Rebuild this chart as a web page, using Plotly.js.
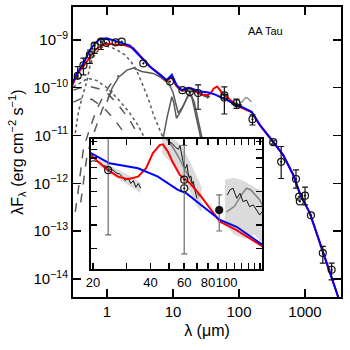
<!DOCTYPE html>
<html>
<head>
<meta charset="utf-8">
<script src="https://cdn.plot.ly/plotly-3.0.1.min.js"></script>
<style>html,body{margin:0;padding:0;background:#fff}</style>
</head>
<body>
<div id="myDiv" style="width:350px;height:350px"></div>
<script>
// photometry (wavelength in micron, log10 of lambda F_lambda)
var photLam = [0.36, 0.44, 0.55, 0.65, 0.81, 0.97, 1.35, 1.67, 3.55, 9.0, 13.9, 18, 24, 60, 60, 91.5, 160, 330, 435, 730, 815, 835, 1000, 1230, 1860, 2530];
var photLog = [-9.75, -9.53, -9.31, -9.12, -9.035, -9.06, -9.05, -9.035, -9.49, -9.87, -10.05, -10.09, -10.11, -10.205, -10.16, -10.32, -10.66, -11.14, -11.55, -11.91, -12.28, -12.38, -12.26, -12.67, -13.46, -13.81];
var photHi = [-9.56, -9.38, -9.21, -9.06, -8.99, null, null, null, null, null, null, null, -9.94, -9.98, null, -10.24, -10.57, -11.11, -11.23, -11.72, null, null, -12.08, null, -13.32, -13.67];
var photLo = [-9.8, -9.73, -9.49, -9.28, -9.2, null, null, null, null, null, null, null, -10.45, -10.55, null, -10.43, -10.78, -11.18, -11.9, -12.1, null, null, -12.45, null, -13.67, -14.02];

// small photometry dots near 100 micron
var dotLam = [81, 92, 103];
var dotLog = [-10.32, -10.36, -10.37];

// models
var blueLam = [0.30, 0.35, 0.44, 0.55, 0.66, 0.78, 0.99, 1.25, 1.57, 2.23, 3.16, 4.5, 6.3, 8.0, 9.6, 11.3, 13.5, 17, 19.5, 24.4, 34.4, 43.7, 55.6, 61.7, 92.3, 112.7, 155, 208, 330, 467, 661, 834, 1187, 1884, 3160, 3600];
var blueLog = [-9.9, -9.7, -9.49, -9.21, -9.07, -8.98, -8.965, -9.0, -9.05, -9.12, -9.35, -9.56, -9.72, -9.84, -9.73, -9.94, -10.05, -10.0, -10.02, -10.074, -10.1, -10.144, -10.214, -10.232, -10.372, -10.408, -10.504, -10.78, -11.13, -11.41, -11.82, -12.21, -12.63, -13.46, -14.37, -14.6];
var redLam = [0.30, 0.35, 0.44, 0.55, 0.66, 0.88, 1.05, 1.4, 1.77, 2.5, 3.2, 4.5, 6.3, 8.0, 9.6, 11.3, 13.5, 17, 18.8, 21.2, 23.9, 27, 30.4, 34.4, 37.9, 41.1, 44.6, 46.4, 49.3, 52.4, 56.9, 64.3, 72.5, 81.8, 92.3, 112.7, 155.6, 208, 330, 467, 661, 834, 1187, 1884, 3160, 3600];
var redLog = [-9.95, -9.72, -9.55, -9.35, -9.21, -9.1, -9.08, -9.1, -9.1, -9.17, -9.33, -9.56, -9.73, -9.86, -9.77, -9.96, -10.06, -10.0, -10.013, -10.065, -10.109, -10.144, -10.158, -10.144, -10.1, -10.021, -9.978, -9.974, -10.013, -10.07, -10.135, -10.179, -10.24, -10.31, -10.381, -10.425, -10.513, -10.79, -11.14, -11.41, -11.82, -12.21, -12.63, -13.46, -14.37, -14.6];

// model components
var photoLam = [0.33, 0.35, 0.37, 0.43, 0.5, 0.55, 0.6, 0.7, 0.87, 1.0, 1.23, 1.5, 1.87, 2.3, 2.8, 3.5, 4.3, 5.0, 6.0, 7.1];
var photoLog = [-10.95, -10.65, -10.5, -10.15, -9.85, -9.55, -9.4, -9.25, -9.14, -9.13, -9.17, -9.23, -9.31, -9.45, -9.63, -9.95, -10.26, -10.55, -10.8, -11.05];
var hotLam = [0.31, 0.37, 0.52, 0.7, 1.0, 1.5, 2.13, 3.0, 3.6, 4.5];
var hotLog = [-9.98, -9.92, -9.8, -9.85, -10.0, -10.25, -10.5, -10.8, -11.02, -11.4];
var shockLam = [0.31, 0.4, 0.53, 0.75, 1.06, 1.5, 2.2, 3.0, 3.7];
var shockLog = [-10.05, -10.0, -9.97, -10.02, -10.14, -10.37, -10.67, -11.0, -11.3];
var veilLam = [0.31, 0.45, 0.6, 0.9, 1.3, 2.0, 2.8];
var veilLog = [-10.3, -10.2, -10.25, -10.42, -10.67, -11.02, -11.42];
var rimLam = [0.33, 0.36, 0.44, 0.55, 0.7, 0.9, 1.1, 1.5];
var rimLog = [-12.6, -12.24, -11.27, -10.85, -10.45, -10.15, -9.95, -9.74];
var rim2Lam = [0.4, 0.5, 0.65, 0.85, 1.1, 1.3];
var rim2Log = [-12.4, -11.4, -10.9, -10.45, -10.15, -10.0];
var diskLam = [1.0, 1.2, 1.5, 2.0, 2.54, 3.35, 5.0, 6.3, 7.5, 8.5, 10, 12, 14, 18, 21, 25, 28, 32];
var diskLog = [-10.3, -10.0, -9.78, -9.63, -9.59, -9.66, -9.7, -9.77, -9.85, -9.88, -10.1, -10.53, -10.4, -10.1, -10.3, -10.75, -11.1, -11.6];
var silLam = [6.5, 7.1, 8.2, 9.6, 10.3, 11.3, 13.5, 17, 19.2, 22.7, 27, 31];
var silLog = [-11.4, -11.05, -10.6, -10.19, -10.32, -10.64, -10.46, -10.15, -10.19, -10.64, -11.06, -11.5];

// spectra
var irsLam = [7.5, 8.0, 8.5, 9.0, 9.5, 10.0, 10.5, 11.0, 12.0, 13.0, 14.0, 15.0, 16.0, 17.0, 18.0, 19.0, 20.0, 21.0, 21.5, 22.5, 23.5, 24.5, 25.5, 26.5, 27.5, 28.5, 29.5, 30.5, 31.5, 32.5, 33.5, 34.5, 35.5];
var irsLog = [-9.86, -9.85, -9.82, -9.79, -9.78, -9.82, -9.88, -9.94, -10.0, -10.04, -10.06, -10.06, -10.06, -10.07, -10.08, -10.07, -10.06, -10.065, -10.07, -10.085, -10.09, -10.105, -10.11, -10.125, -10.13, -10.145, -10.165, -10.15, -10.18, -10.165, -10.2, -10.18, -10.205];
var irsBandLam = [21.5, 26, 30, 35.5];
var irsBandHi = [-10.05, -10.1, -10.13, -10.175];
var irsBandLo = [-10.09, -10.145, -10.185, -10.23];

var pacsLam = [50, 52, 54, 56, 57, 58, 59, 60, 61, 62, 63, 64, 65, 66, 67, 68, 69, 70];
var pacsLog = [-9.96, -9.97, -9.99, -10.0, -9.98, -10.03, -10.06, -10.09, -10.1, -10.08, -10.13, -10.15, -10.14, -10.18, -10.17, -10.21, -10.24, -10.26];
var pacsGreyLam = [44, 47, 50, 53, 56, 60, 64, 68, 72];
var pacsGreyLog = [-9.9, -9.93, -9.96, -10.0, -10.04, -10.1, -10.15, -10.2, -10.25];
var pacsBandLam = [46, 52, 58, 64, 70, 74];
var pacsBandHi = [-9.9, -9.94, -9.98, -10.06, -10.15, -10.2];
var pacsBandLo = [-10.02, -10.08, -10.16, -10.22, -10.3, -10.33];

var longLam = [101, 104, 108, 113, 117.5, 122, 127, 132, 138, 143.5, 149, 153];
var longLog = [-10.24, -10.214, -10.205, -10.258, -10.232, -10.276, -10.267, -10.302, -10.293, -10.32, -10.346, -10.33];
var longGreyLam = [100, 110, 119.7, 127, 134, 143.5, 149, 155];
var longGreyLog = [-10.33, -10.3, -10.24, -10.205, -10.214, -10.25, -10.267, -10.3];
var longBandLam = [98, 110, 125, 140, 155];
var longBandHi = [-10.16, -10.15, -10.17, -10.2, -10.22];
var longBandLo = [-10.4, -10.45, -10.47, -10.45, -10.5];

var yTickVals = [-14, -13, -12, -11, -10, -9];
var xTickVals = [1, 10, 100, 1000];
var insetTickVals = [20, 30, 40, 50, 60, 70, 80, 90, 100, 110, 120, 130, 140, 150];
var insetTickText = ['20', '', '40', '', '60', '', '80', '', '100', '', '', '', '', ''];

function lin(a) { return a.map(function (v) { return Math.pow(10, v); }); }

var grey = 'rgb(90,90,90)';

function line(x, y, color, width, dash, ax) {
    return {
        x: x, y: lin(y), mode: 'lines', type: 'scatter', showlegend: false, hoverinfo: 'skip',
        xaxis: ax ? 'x2' : 'x', yaxis: ax ? 'y2' : 'y',
        line: {color: color, width: width, dash: dash || 'solid'}
    };
}

function band(x, hi, lo, ax) {
    return {
        x: x.concat(x.slice().reverse()),
        y: lin(hi.concat(lo.slice().reverse())),
        mode: 'lines', fill: 'toself', fillcolor: 'rgba(200,200,200,0.65)',
        line: {width: 0}, showlegend: false, hoverinfo: 'skip',
        xaxis: ax ? 'x2' : 'x', yaxis: ax ? 'y2' : 'y'
    };
}

var F = lin(photLog);
var errPlus = photHi.map(function (v, i) { return v === null ? NaN : Math.pow(10, v) - F[i]; });
var errMinus = photLo.map(function (v, i) { return v === null ? NaN : F[i] - Math.pow(10, v); });

function points(ax, barColor) {
    // the 91.5 micron point is drawn filled in the inset
    var sym = photLam.map(function (l) { return ax && l === 91.5 ? 'circle' : 'circle-open-dot'; });
    return {
        x: photLam, y: F, mode: 'markers', type: 'scatter', showlegend: false,
        xaxis: ax ? 'x2' : 'x', yaxis: ax ? 'y2' : 'y',
        marker: {symbol: sym, size: 7, color: '#111', line: {width: 1.2, color: '#111'}},
        error_y: {type: 'data', symmetric: false, array: errPlus, arrayminus: errMinus,
            color: barColor, thickness: 1.2, width: 3}
    };
}

var data = [
    // main panel
    line(photoLam, photoLog, grey, 1.5, 'dot'),
    line(hotLam, hotLog, grey, 1.5, 'dot'),
    line(shockLam, shockLog, grey, 1.5, 'dash'),
    line(veilLam, veilLog, grey, 1.5, 'dash'),
    line(rimLam, rimLog, grey, 1.5, 'dash'),
    line(rim2Lam, rim2Log, grey, 1.5, 'dash'),
    line(diskLam, diskLog, grey, 1.5),
    line(silLam, silLog, grey, 1.5),
    line(irsLam, irsLog, 'rgb(70,70,70)', 2),
    line(longGreyLam, longGreyLog, 'rgb(150,150,150)', 1.5),
    line(redLam, redLog, 'rgb(255,0,0)', 2),
    line(blueLam, blueLog, 'rgb(0,0,255)', 2),
    points(false, '#111'),
    {x: dotLam, y: lin(dotLog), mode: 'markers', type: 'scatter', showlegend: false,
        marker: {size: 4, color: '#111'}},
    // inset
    band(irsBandLam, irsBandHi, irsBandLo, true),
    band(pacsBandLam, pacsBandHi, pacsBandLo, true),
    band(longBandLam, longBandHi, longBandLo, true),
    line(pacsGreyLam, pacsGreyLog, 'rgb(130,130,130)', 1.5, 'solid', true),
    line(longGreyLam, longGreyLog, 'rgb(130,130,130)', 1.5, 'solid', true),
    line(irsLam, irsLog, '#111', 1, 'solid', true),
    line(pacsLam, pacsLog, '#111', 1, 'solid', true),
    line(longLam, longLog, '#111', 1, 'solid', true),
    line(redLam, redLog, 'rgb(255,0,0)', 2, 'solid', true),
    line(blueLam, blueLog, 'rgb(0,0,255)', 2, 'solid', true),
    points(true, 'rgb(110,110,110)')
];

var axisFont = {family: 'Liberation Sans, Arial, sans-serif', size: 15, color: '#000'};

var layout = {
    width: 350, height: 350,
    margin: {l: 73, r: 9, t: 7, b: 53},
    paper_bgcolor: '#fff', plot_bgcolor: '#fff',
    font: axisFont,
    showlegend: false,
    xaxis: {
        type: 'log', range: [-0.515, 3.545], domain: [0, 1], anchor: 'y',
        showgrid: false, zeroline: false, showline: true, linecolor: '#000', linewidth: 2,
        mirror: 'ticks', ticks: 'inside', ticklen: 8, tickwidth: 1.5, tickcolor: '#000',
        tickvals: xTickVals, ticktext: xTickVals.map(String), tickfont: axisFont, tickangle: 0,
        title: {text: 'λ (μm)', font: {family: axisFont.family, size: 16}, standoff: 6}
    },
    yaxis: {
        type: 'log', range: [-14.38, -8.31], domain: [0, 1], anchor: 'x',
        showgrid: false, zeroline: false, showline: true, linecolor: '#000', linewidth: 2,
        mirror: 'ticks', ticks: 'inside', ticklen: 8, tickwidth: 1.5, tickcolor: '#000',
        tickvals: yTickVals.map(function (v) { return Math.pow(10, v); }),
        ticktext: yTickVals.map(function (v) { return '10<sup>\u2212' + (-v) + '</sup>'; }),
        tickfont: axisFont,
        title: {text: 'λF<sub>λ</sub> (erg cm<sup>\u22122</sup> s<sup>\u22121</sup>)',
            font: {family: axisFont.family, size: 16}, standoff: 6}
    },
    xaxis2: {
        type: 'log', range: [1.29, 2.185], domain: [0.067, 0.705], anchor: 'y2',
        showgrid: false, zeroline: false, showline: true, linecolor: '#000', linewidth: 2,
        mirror: 'ticks', ticks: 'inside', ticklen: 6, tickwidth: 1.5, tickcolor: '#000',
        tickvals: insetTickVals, ticktext: insetTickText, tickangle: 0,
        tickfont: {family: axisFont.family, size: 13}
    },
    yaxis2: {
        type: 'log', range: [-10.63, -9.946], domain: [0.0966, 0.5448], anchor: 'x2',
        showgrid: false, zeroline: false, showline: true, linecolor: '#000', linewidth: 2,
        mirror: 'ticks', ticks: 'inside', ticklen: 6, tickwidth: 1.5, tickcolor: '#000',
        tickvals: [3e-11, 4e-11, 5e-11, 6e-11, 7e-11, 8e-11, 9e-11, 1e-10, 1.1e-10],
        showticklabels: false
    },
    annotations: [{
        xref: 'paper', yref: 'paper', x: 0.79, y: 0.945, showarrow: false,
        text: 'AA Tau', font: {family: axisFont.family, size: 11, color: '#000'}
    }]
};

Plotly.newPlot('myDiv', data, layout, {staticPlot: true});
</script>
</body>
</html>
